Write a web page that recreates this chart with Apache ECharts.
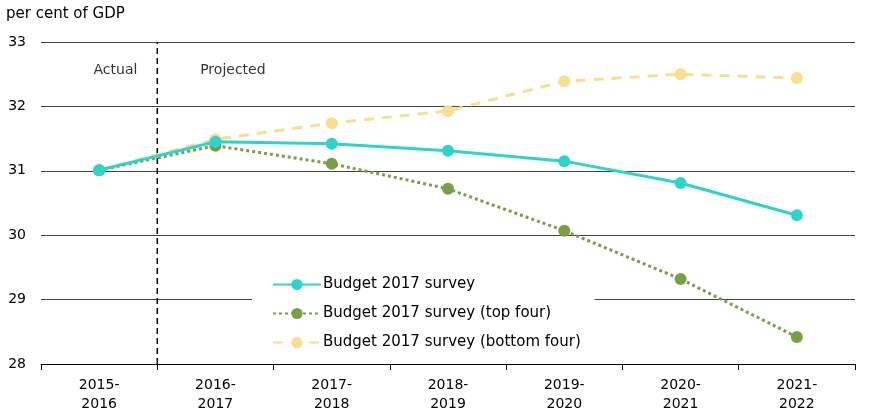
<!DOCTYPE html>
<html>
<head>
<meta charset="utf-8">
<script src="https://cdn.jsdelivr.net/npm/echarts@6/dist/echarts.min.js"></script>
<style>
  html, body { margin: 0; padding: 0; background: #fff; }
  #chart { width: 871px; height: 418px; }
</style>
</head>
<body>
<div id="chart"></div>
<script>
var categories = ['2015-\n2016', '2016-\n2017', '2017-\n2018', '2018-\n2019', '2019-\n2020', '2020-\n2021', '2021-\n2022'];
var surveyAll = [31.01, 31.45, 31.42, 31.31, 31.15, 30.81, 30.31];
var surveyTop = [31.01, 31.39, 31.11, 30.72, 30.07, 29.32, 28.42];
var surveyBottom = [31.01, 31.49, 31.74, 31.93, 32.39, 32.50, 32.44];
var seriesNames = ['Budget 2017 survey', 'Budget 2017 survey (top four)', 'Budget 2017 survey (bottom four)'];
// divider sits between the actual and projected years
var dividerAt = 0.5;
var periodLabels = [['Actual', 0.14], ['Projected', 1.15]];

var font = 'DejaVu Sans, Liberation Sans, sans-serif';
var chart = echarts.init(document.getElementById('chart'));

var option = {
    animation: false,
    textStyle: { fontFamily: font },
    grid: { left: 41, right: 16, top: 42, bottom: 54 },
    title: {
        text: 'per cent of GDP', left: 1, top: 2,
        textStyle: { fontSize: 15, fontWeight: 'normal', color: '#000', fontFamily: font }
    },
    legend: {
        data: seriesNames,
        orient: 'vertical',
        left: 252, top: 272,
        itemWidth: 48, itemHeight: 14, itemGap: 14,
        padding: [5, 14, 5, 20],
        backgroundColor: '#fff',
        textStyle: { fontSize: 15, color: '#000', fontFamily: font, padding: [0, 0, 0, -3] }
    },
    xAxis: [{
        type: 'category',
        data: categories,
        boundaryGap: true,
        axisLine: { lineStyle: { color: '#000', width: 1 } },
        axisTick: { show: true, length: 6, lineStyle: { color: '#000' } },
        axisLabel: { color: '#000', fontSize: 14, margin: 12, lineHeight: 19, fontFamily: font }
    }, {
        type: 'value', min: -0.5, max: 6.5, show: false
    }],
    yAxis: {
        type: 'value', min: 28, max: 33, interval: 1,
        axisLine: { show: false },
        axisTick: { show: false },
        axisLabel: { color: '#000', fontSize: 14, margin: 15, fontFamily: font },
        splitLine: { lineStyle: { color: '#444', width: 1 } }
    },
    series: [{
        name: seriesNames[0], type: 'line', data: surveyAll, z: 4,
        symbol: 'circle', symbolSize: 12,
        lineStyle: { color: '#2ed3cb', width: 3 },
        itemStyle: { color: '#2ed3cb' }
    }, {
        name: seriesNames[1], type: 'line', data: surveyTop, z: 3,
        symbol: 'circle', symbolSize: 12,
        lineStyle: { color: '#77a046', width: 3, type: [3, 3] },
        itemStyle: { color: '#77a046' }
    }, {
        name: seriesNames[2], type: 'line', data: surveyBottom, z: 2,
        symbol: 'circle', symbolSize: 12,
        lineStyle: { color: '#f8de8e', width: 3, type: [10, 8] },
        itemStyle: { color: '#f8de8e' }
    }, {
        type: 'line', xAxisIndex: 1, z: 1,
        data: [[dividerAt, 28], [dividerAt, 33]],
        symbol: 'none', silent: true,
        lineStyle: { color: '#000', width: 1.5, type: [6, 4] }
    }, {
        type: 'scatter', xAxisIndex: 1, silent: true,
        symbolSize: 0,
        data: periodLabels.map(function (p) { return { value: [p[1], 32.56], name: p[0] }; }),
        label: {
            show: true, position: 'inside', formatter: '{b}',
            color: '#000', fontSize: 14, fontFamily: font
        }
    }]
};

chart.setOption(option);
</script>
</body>
</html>
